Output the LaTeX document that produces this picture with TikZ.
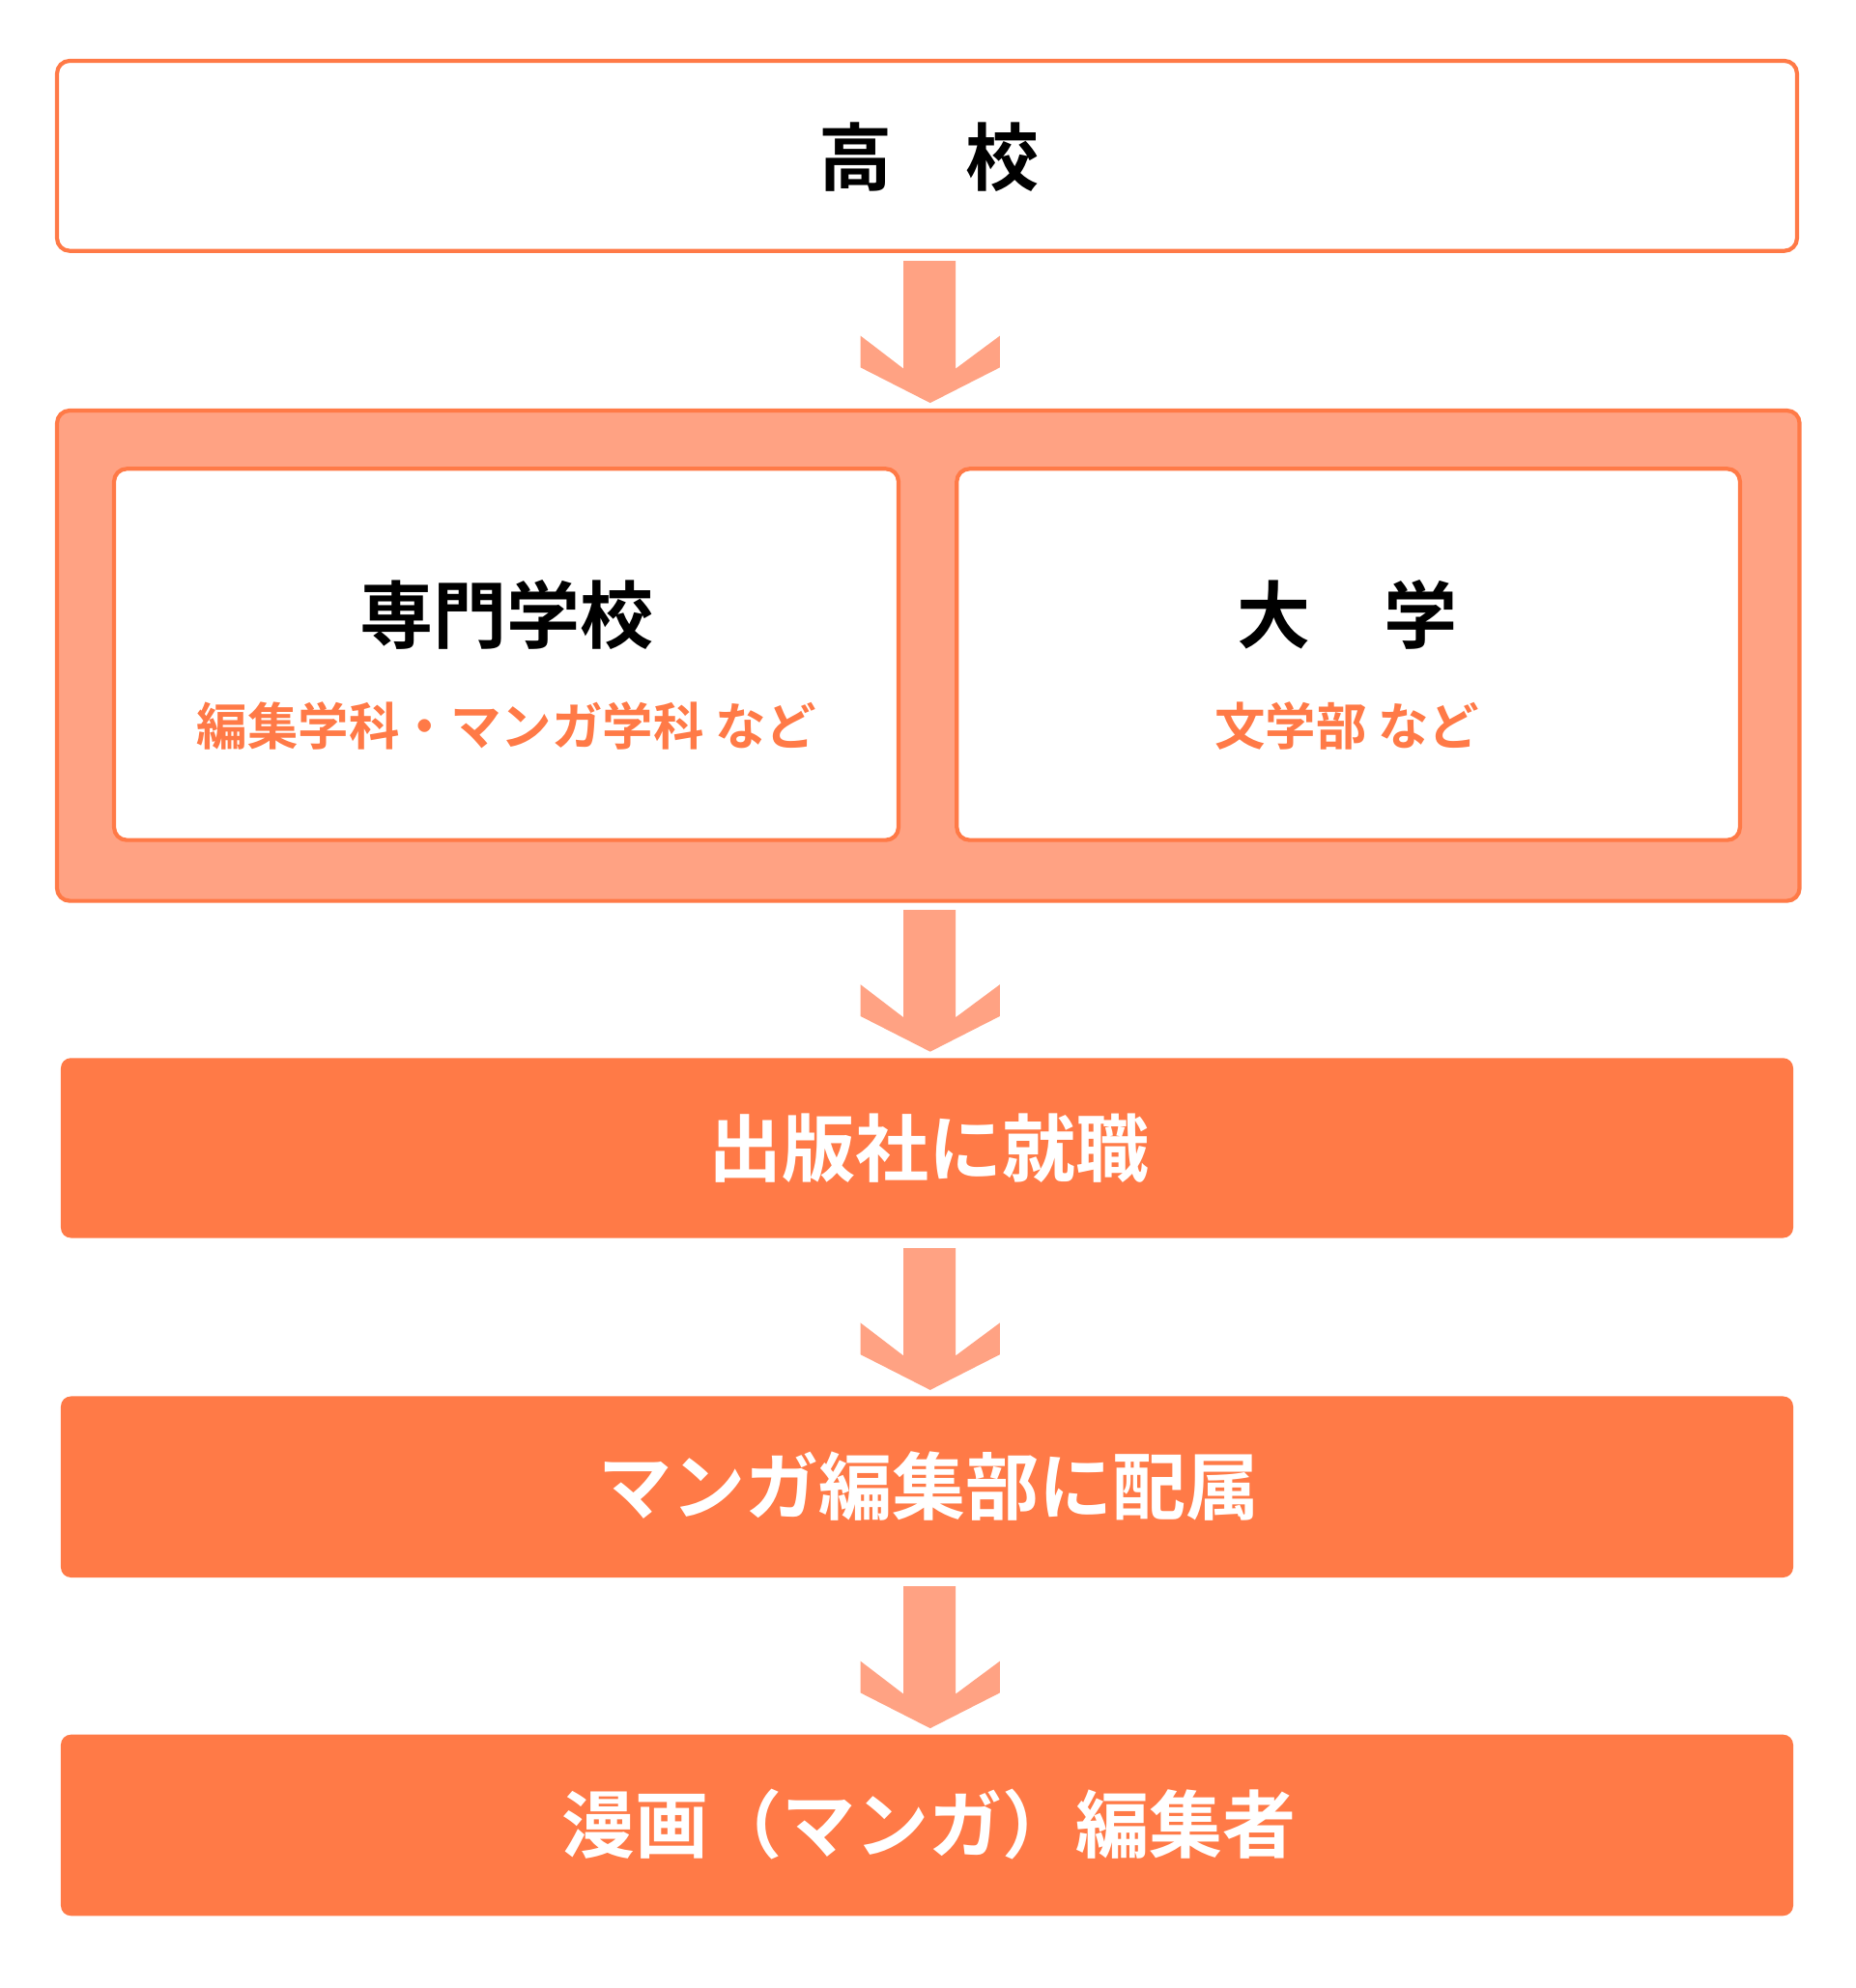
\documentclass[tikz,border=0pt]{standalone}
\usepackage{fontspec}
\newfontfamily\jp{Noto Sans CJK JP Bold}
\definecolor{org}{HTML}{FF7A47}
\definecolor{lt}{HTML}{FFA283}
\begin{document}
\begin{tikzpicture}[x=0.5pt,y=-0.5pt,
  wbox/.style={draw=org,line width=1.6pt,fill=white,rounded corners=5pt},
  obox/.style={fill=org,rounded corners=4pt},
  big/.style={font=\jp\fontsize{29}{32}\selectfont},
  sub/.style={font=\jp\fontsize{20}{24}\selectfont,text=org}]
\useasboundingbox (0,0) rectangle (1464,1569);
\draw[wbox] (45,48) rectangle (1418,198);
\node[big] (hs) at (733,124) {高　校};
\draw[draw=org,line width=1.6pt,fill=lt,rounded corners=5pt] (45,324) rectangle (1420,711);
\draw[wbox] (90,370) rectangle (709,663);
\draw[wbox] (755,370) rectangle (1373,663);
\node[big] (sm) at (400,485) {専門学校};
\node[sub] (smd) at (400,573) {編集学科・マンガ学科 など};
\node[big] (dg) at (1063,485) {大　学};
\node[sub] (dgd) at (1063,573) {文学部 など};
\fill[obox] (48,835) rectangle (1415,977);
\node[big,text=white] (b3) at (733,906) {出版社に就職};
\fill[obox] (48,1102) rectangle (1415,1245);
\node[big,text=white] (b4) at (733,1173) {マンガ編集部に配属};
\fill[obox] (48,1369) rectangle (1415,1512);
\node[big,text=white] (b5) at (733,1440) {漫画（マンガ）編集者};
\foreach \t in {206,718,985,1252}{
  \fill[lt] (713,\t) -- (754,\t) -- (754,\t+85) -- (789,\t+59) -- (789,\t+84) -- (734,\t+112)
    -- (679,\t+84) -- (679,\t+59) -- (713,\t+85) -- cycle;
}
\end{tikzpicture}
\end{document}
